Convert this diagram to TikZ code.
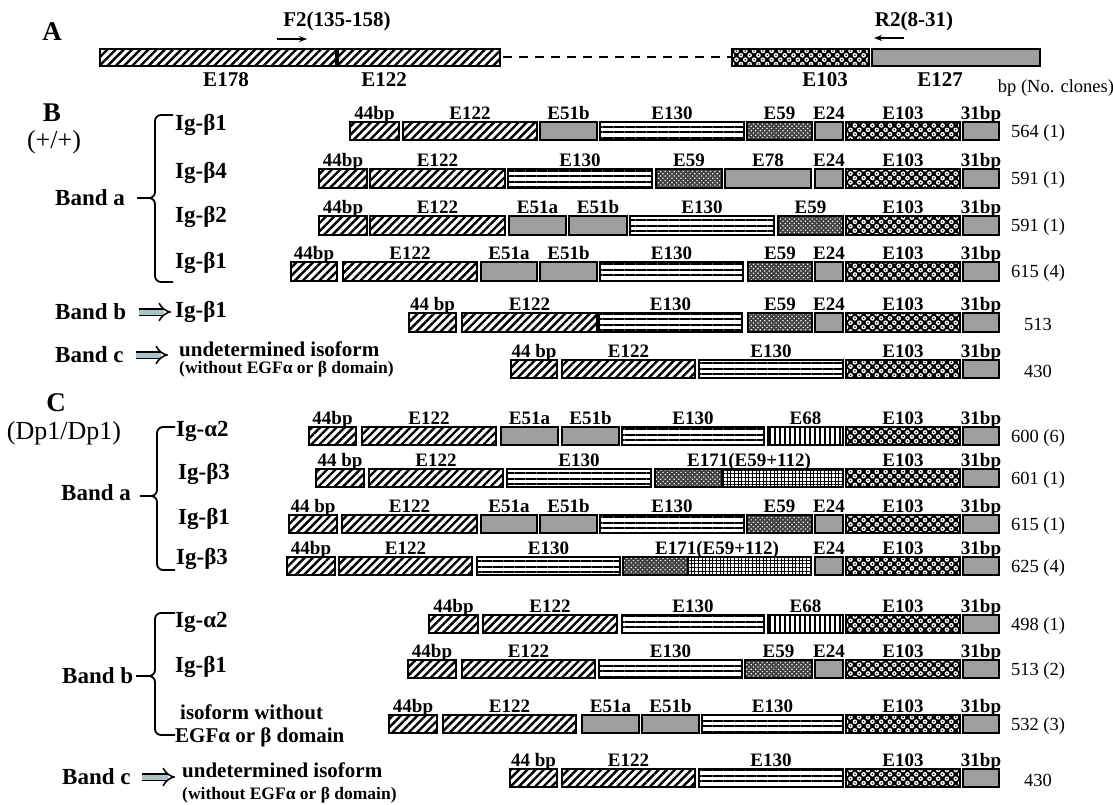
\documentclass[tikz,border=0pt]{standalone}
\usepackage{fontspec}
\setmainfont{Liberation Serif}
\usetikzlibrary{patterns.meta,arrows.meta}
\definecolor{arrfill}{RGB}{170,195,200}
\newcounter{lc}
\newcommand\setrow[2]{\def\rowT{#1}\def\rowB{#2}}
\newcommand\seg[4]{%
  \path[#1] (#2,\rowT) rectangle (#3,\rowB);
  \stepcounter{lc}\node[lab] (lab\thelc) at ({(#2+#3)/2},{\rowT-2.5}) {#4};
}
\newcommand\segE[4]{%
  \path[pDark] (#1,\rowT) rectangle (#2,\rowB);
  \path[pGrid] (#2,\rowT) rectangle (#3,\rowB);
  \stepcounter{lc}\node[lab] (lab\thelc) at ({(#1+#3)/2},{\rowT-2.5}) {#4};
}
\newcommand\tailE{%
  \seg{pCirc}{846}{960}{E103}
  \seg{pGray}{963}{999}{31bp}
}
\tikzset{
  bord/.style={postaction={draw=black,line width=1.2pt}},
  pHatch/.style={fill=white,postaction={pattern={Lines[angle=45,distance=5.8pt,line width=2.4pt]},pattern color=black},bord},
  pHL/.style={fill=white,postaction={pattern={Lines[angle=0,distance=5.5pt,line width=2pt,yshift=1.5pt]},pattern color=black},bord},
  pGray/.style={fill=black!38,bord},
  pDark/.style={fill=black!75,postaction={pattern={Dots[radius=0.85pt,distance=3.2pt,angle=45]},pattern color=white},bord},
  pCirc/.style={fill=black,postaction={pattern={Dots[radius=2.3pt,distance=6.2pt,angle=45]},pattern color=white},postaction={pattern={Dots[radius=0.9pt,distance=6.2pt,angle=45]},pattern color=black},bord},
  pVL/.style={fill=white,postaction={pattern={Lines[angle=90,distance=5pt,line width=1.2pt]},pattern color=black},bord},
  pGrid/.style={fill=white,postaction={pattern={Hatch[angle=0,distance=3.6pt,line width=0.8pt]},pattern color=black},bord},
  lab/.style={anchor=base,inner sep=0pt,font=\bfseries\fontsize{19}{20}\selectfont},
  alab/.style={inner sep=0pt,font=\bfseries\fontsize{21}{24}\selectfont},
  num/.style={inner sep=0pt,font=\fontsize{18.5}{20}\selectfont},
  igl/.style={anchor=west,inner sep=0pt,font=\bfseries\fontsize{23}{26}\selectfont},
  letter/.style={inner sep=0pt,font=\bfseries\fontsize{27}{30}\selectfont},
  geno/.style={inner sep=0pt,font=\fontsize{26}{28}\selectfont},
  undt/.style={anchor=west,inner sep=0pt,font=\bfseries\fontsize{21}{24}\selectfont},
  undsub/.style={anchor=west,inner sep=0pt,font=\bfseries\fontsize{17.5}{20}\selectfont},
  abox/.style={minimum height=17pt,inner sep=0pt,outer sep=0pt,anchor=north west},
  brc/.style={line width=1.8pt,rounded corners=6pt},
  dbl/.style={double=arrfill,double distance=5pt,line width=1.5pt,-{Implies}},
  parr/.style={line width=1.4pt,-{Stealth[length=8pt,width=6pt]}},
}
\begin{document}
\begin{tikzpicture}[x=1pt,y=-1pt]
\fill[white] (0,0) rectangle (1113,805);
\useasboundingbox (0,0) rectangle (1113,805);

% ---------- A ----------
\node[letter] (tA) at (52,32) {A};
\node[abox,pHatch,minimum width=236pt] (e178) at (100,49) {};
\node[abox,pHatch,minimum width=162pt] (e122) at (338,49) {};
\node[abox,pCirc,minimum width=137pt] (e103) at (732,49) {};
\node[abox,pGray,minimum width=168pt] (e127) at (872,49) {};
\draw[line width=2pt,dash pattern=on 9pt off 7pt] ([xshift=3pt]e122.east) -- (e103.west);
\node[alab] (le178) at (226,80) {E178};
\node[alab] (le122) at (384,80) {E122};
\node[alab] (le103) at (825,80) {E103};
\node[alab] (le127) at (940,80) {E127};
\node[alab] (f2) at (337,21) {F2(135-158)};
\coordinate (f2a) at (277,39); \coordinate (f2b) at (307,39);
\draw[parr] (f2a) -- (f2b);
\node[alab] (r2) at (914,21) {R2(8-31)};
\coordinate (r2a) at (904,38); \coordinate (r2b) at (874,38);
\draw[parr] (r2a) -- (r2b);
\node[num] (bpn) at (1056,88) {bp (No. clones)};

% ---------- B ----------
\node[letter] (tB) at (52,113) {B};
\node[geno] (gB) at (54,142) {(+/+)};
\node[igl] (bandaB) at (55,198) {Band a};
\draw[brc] (173,115) -- (155,115) -- (155,198) -- (137,198);
\draw[brc] (137,198) -- (155,198) -- (155,282) -- (173,282);
\node[igl] (igB1) at (175,125) {Ig-β1};
\node[igl] (igB2) at (175,173) {Ig-β4};
\node[igl] (igB3) at (175,217) {Ig-β2};
\node[igl] (igB4) at (175,263) {Ig-β1};
\node[igl] (bandbB) at (55,312) {Band b};
\node[igl] (igB5) at (175,312) {Ig-β1};
\draw[dbl,shorten <=13pt,shorten >=4pt] (bandbB.east) -- (igB5.west);
\node[igl] (bandcB) at (55,355) {Band c};
\node[undt] (undB) at (179,349) {undetermined isoform};
\node[undsub] (undBs) at (179,369) {(without EGFα or β domain)};
\draw[dbl,shorten <=12pt,shorten >=11pt] (bandcB.east) -- (bandcB.east -| undB.west);

\setrow{122}{140}
\seg{pHatch}{350}{399}{44bp}
\seg{pHatch}{403}{537}{E122}
\seg{pGray}{540}{597}{E51b}
\seg{pHL}{600}{744}{E130}
\seg{pDark}{747}{812}{E59}
\seg{pGray}{815}{843}{E24}
\tailE
\node[num] (nB1) at (1038,133) {564 (1)};

\setrow{169}{188}
\seg{pHatch}{319}{367}{44bp}
\seg{pHatch}{370}{505}{E122}
\seg{pHL}{508}{652}{E130}
\seg{pDark}{656}{722}{E59}
\seg{pGray}{725}{811}{E78}
\seg{pGray}{815}{843}{E24}
\tailE
\node[num] (nB2) at (1038,180) {591 (1)};

\setrow{216}{235}
\seg{pHatch}{319}{367}{44bp}
\seg{pHatch}{370}{505}{E122}
\seg{pGray}{509}{566}{E51a}
\seg{pGray}{569}{627}{E51b}
\seg{pHL}{630}{774}{E130}
\seg{pDark}{778}{843}{E59}
\tailE
\node[num] (nB3) at (1038,227) {591 (1)};

\setrow{262}{281}
\seg{pHatch}{291}{337}{44bp}
\seg{pHatch}{343}{477}{E122}
\seg{pGray}{481}{537}{E51a}
\seg{pGray}{540}{597}{E51b}
\seg{pHL}{600}{743}{E130}
\seg{pDark}{748}{812}{E59}
\seg{pGray}{815}{843}{E24}
\tailE
\node[num] (nB4) at (1038,273) {615 (4)};

\setrow{313}{332}
\seg{pHatch}{409}{456}{44 bp}
\seg{pHatch}{462}{597}{E122}
\seg{pHL}{599}{742}{E130}
\seg{pDark}{748}{812}{E59}
\seg{pGray}{815}{843}{E24}
\tailE
\node[num] (nB5) at (1038,324) {513};

\setrow{360}{378}
\seg{pHatch}{511}{557}{44 bp}
\seg{pHatch}{562}{695}{E122}
\seg{pHL}{699}{843}{E130}
\tailE
\node[num] (nB6) at (1038,371) {430};

% ---------- C ----------
\node[letter] (tC) at (56,403) {C};
\node[geno] (gC) at (64,433) {(Dp1/Dp1)};
\node[igl] (bandaC) at (61,493) {Band a};
\draw[brc] (175,427) -- (157,427) -- (157,496) -- (140,496);
\draw[brc] (140,496) -- (157,496) -- (157,570) -- (175,570);
\node[igl] (igC1) at (176,431) {Ig-α2};
\node[igl] (igC2) at (178,474) {Ig-β3};
\node[igl] (igC3) at (178,519) {Ig-β1};
\node[igl] (igC4) at (176,559) {Ig-β3};

\setrow{427}{445}
\seg{pHatch}{309}{356}{44bp}
\seg{pHatch}{362}{496}{E122}
\seg{pGray}{501}{558}{E51a}
\seg{pGray}{562}{619}{E51b}
\seg{pHL}{622}{764}{E130}
\seg{pVL}{768}{843}{E68}
\tailE
\node[num] (nC1) at (1038,438) {600 (6)};

\setrow{469}{487}
\seg{pHatch}{316}{364}{44 bp}
\seg{pHatch}{369}{503}{E122}
\seg{pHL}{507}{651}{E130}
\segE{655}{722}{843}{E171(E59+112)}
\tailE
\node[num] (nC2) at (1038,480) {601 (1)};

\setrow{515}{533}
\seg{pHatch}{289}{337}{44 bp}
\seg{pHatch}{342}{477}{E122}
\seg{pGray}{481}{537}{E51a}
\seg{pGray}{540}{597}{E51b}
\seg{pHL}{600}{744}{E130}
\seg{pDark}{747}{812}{E59}
\seg{pGray}{815}{843}{E24}
\tailE
\node[num] (nC3) at (1038,526) {615 (1)};

\setrow{557}{575}
\seg{pHatch}{287}{335}{44bp}
\seg{pHatch}{339}{472}{E122}
\seg{pHL}{477}{620}{E130}
\segE{623}{688}{811}{E171(E59+112)}
\seg{pGray}{815}{843}{E24}
\tailE
\node[num] (nC4) at (1038,568) {625 (4)};

\node[igl] (bandbC) at (62,676) {Band b};
\draw[brc] (175,613) -- (155,613) -- (155,676) -- (136,676);
\draw[brc] (136,676) -- (155,676) -- (155,735) -- (175,735);
\node[igl] (igC5) at (175,622) {Ig-α2};
\node[igl] (igC6) at (175,667) {Ig-β1};
\node[undt] (isoC) at (180,712) {isoform without};
\node[undt] (isoC2) at (175,737) {EGFα or β domain};

\setrow{615}{633}
\seg{pHatch}{429}{478}{44bp}
\seg{pHatch}{483}{617}{E122}
\seg{pHL}{622}{764}{E130}
\seg{pVL}{768}{843}{E68}
\tailE
\node[num] (nC5) at (1038,626) {498 (1)};

\setrow{660}{678}
\seg{pHatch}{408}{456}{44bp}
\seg{pHatch}{462}{595}{E122}
\seg{pHL}{599}{742}{E130}
\seg{pDark}{745}{812}{E59}
\seg{pGray}{815}{843}{E24}
\tailE
\node[num] (nC6) at (1038,671) {513 (2)};

\setrow{715}{733}
\seg{pHatch}{389}{437}{44bp}
\seg{pHatch}{443}{576}{E122}
\seg{pGray}{582}{639}{E51a}
\seg{pGray}{642}{699}{E51b}
\seg{pHL}{702}{843}{E130}
\tailE
\node[num] (nC7) at (1038,726) {532 (3)};

\node[igl] (bandcC) at (62,777) {Band c};
\node[undt] (undC) at (182,770) {undetermined isoform};
\node[undsub] (undCs) at (182,795) {(without EGFα or β domain)};
\draw[dbl,shorten <=11pt,shorten >=7pt] (bandcC.east) -- (bandcC.east -| undC.west);

\setrow{769}{787}
\seg{pHatch}{510}{557}{44 bp}
\seg{pHatch}{562}{695}{E122}
\seg{pHL}{699}{843}{E130}
\tailE
\node[num] (nC8) at (1038,780) {430};
\end{tikzpicture}
\end{document}
